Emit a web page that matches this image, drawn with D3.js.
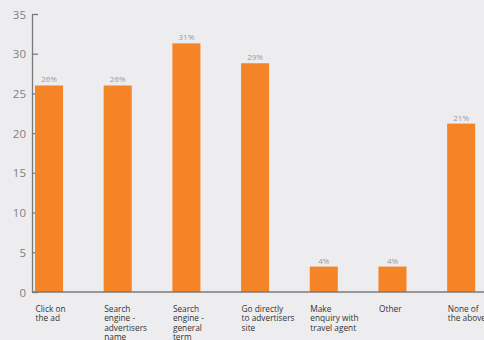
<!DOCTYPE html>
<html><head><meta charset="utf-8">
<script src="https://cdn.jsdelivr.net/npm/d3@7"></script>
<style>
html,body{margin:0;padding:0;background:#ededf0;}
svg{display:block;}
</style></head>
<body>
<div id="chart"></div>
<script>
const categories = [
  ["Click on","the ad"],
  ["Search","engine -","advertisers","name"],
  ["Search","engine -","general","term"],
  ["Go directly","to advertisers","site"],
  ["Make","enquiry with","travel agent"],
  ["Other"],
  ["None of","the above"]
];
const values = [26, 26, 31.3, 28.8, 3.2, 3.2, 21.2];
const valueLabels = ["26%","26%","31%","29%","4%","4%","21%"];
const yTicks = [0,5,10,15,20,25,30,35];

const W = 484, H = 340;
const svg = d3.select("#chart").append("svg").attr("width", W).attr("height", H);

const ids = categories.map((c,i)=>i);
const x = d3.scaleBand().domain(ids).range([35, 475.2]).paddingInner(0.592).paddingOuter(0);
const y = d3.scaleLinear().domain([0,35]).range([292,14]);

const font = "'Open Sans', 'Noto Sans', sans-serif";

// y axis
const yAxis = d3.axisRight(y).tickValues(yTicks).tickSize(6).tickSizeOuter(0).tickFormat(d3.format("d"));
const gy = svg.append("g").attr("transform","translate(32,0)").call(yAxis);
gy.select(".domain").attr("stroke","#7a7a7a").attr("stroke-width",1.3);
gy.selectAll(".tick line").attr("stroke","#7a7a7a").attr("stroke-width",1.3);
gy.selectAll(".tick text").attr("x",-6).attr("text-anchor","end")
  .attr("fill","#808080").attr("font-size","11.5px").attr("font-family",font).attr("dy","0.35em");

// bars
svg.append("g").selectAll("rect").data(values).join("rect")
  .attr("x",(d,i)=>x(i)).attr("width",x.bandwidth())
  .attr("y",d=>y(d)).attr("height",d=>y(0)-y(d))
  .attr("fill","#f58426");

// x baseline
svg.append("line").attr("x1",32).attr("x2",W).attr("y1",y(0)).attr("y2",y(0))
  .attr("stroke","#7a7a7a").attr("stroke-width",1.3);

// value labels
svg.append("g").selectAll("text").data(values).join("text")
  .attr("x",(d,i)=>x(i)+x.bandwidth()/2).attr("y",d=>y(d)-3)
  .attr("text-anchor","middle").attr("fill","#9a9a9a")
  .attr("font-size","8px").attr("font-family",font)
  .text((d,i)=>valueLabels[i]);

// category labels
const cl = svg.append("g").selectAll("text").data(categories).join("text")
  .attr("x",(d,i)=>x(i)+0.5).attr("y",312)
  .attr("fill","#333").attr("font-size","8.3px").attr("font-family",font);
cl.each(function(lines){
  const t = d3.select(this);
  lines.forEach((l,j)=>{
    t.append("tspan").attr("x",t.attr("x")).attr("dy", j===0?0:9.3).text(l);
  });
});
</script>
</body></html>
